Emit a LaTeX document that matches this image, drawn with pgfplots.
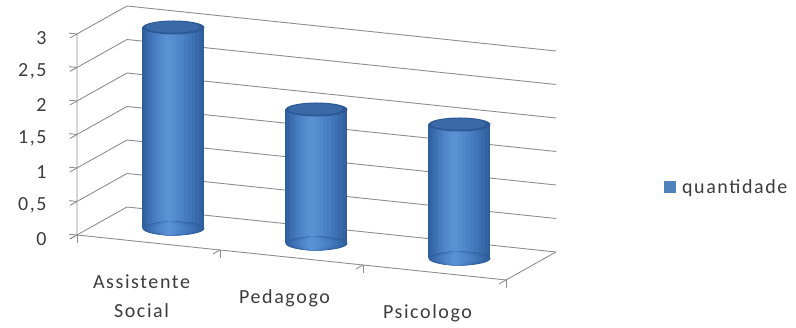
\documentclass[border=0pt]{standalone}
\usepackage{pgfplots}
\pgfplotsset{compat=1.18}
\usepackage{pgfplotstable}
\usepackage{fontspec}
\setmainfont{Carlito}[LetterSpace=8]

\definecolor{gridgray}{HTML}{8E8E8E}
\definecolor{textgray}{HTML}{3C3C3C}
\definecolor{legblue}{HTML}{4F81BD}
\definecolor{layerA}{HTML}{2F5E9C}
\definecolor{layerB}{HTML}{3463A3}
\definecolor{layerC}{HTML}{386AAB}
\definecolor{layerD}{HTML}{3D70B3}
\definecolor{layerE}{HTML}{4276BA}
\definecolor{layerF}{HTML}{477CC0}
\definecolor{layerG}{HTML}{4C82C6}
\definecolor{layerH}{HTML}{5188CB}
\definecolor{layerI}{HTML}{568DCF}
\definecolor{layerJ}{HTML}{5A91D2}
\definecolor{capedge}{HTML}{2D5A96}
\definecolor{capmid}{HTML}{3A69A8}

\pgfplotstableread{
x val
1 3
2 2
3 2
}\quantidade

% elliptical base of a cylinder layer: half width = mark size
\pgfdeclareplotmark{cylbase}{%
  \pgfpathellipse{\pgfpointorigin}{\pgfqpoint{\pgfplotmarksize}{0pt}}{\pgfqpoint{0pt}{7pt}}%
  \pgfusepathqfill}
% top face of a cylinder
\pgfdeclareplotmark{cyltop}{%
  \pgfsetfillcolor{capedge}%
  \pgfpathellipse{\pgfpointorigin}{\pgfqpoint{\pgfplotmarksize}{0pt}}{\pgfqpoint{0pt}{7pt}}%
  \pgfusepathqfill
  \pgfsetfillcolor{capmid}%
  \pgfpathellipse{\pgfpoint{-1pt}{0.4pt}}{\pgfqpoint{27pt}{0pt}}{\pgfqpoint{0pt}{5.6pt}}%
  \pgfusepathqfill}

% one shaded layer of a cylinder: x, value, width, colour, horizontal shift
\newcommand{\cylpart}[5]{%
  \addplot3[only marks, mark=cylbase, mark size=#3/2, color=#4, xshift=#5,
    forget plot] coordinates {(#1,0.5,0)};
  \addplot3[line width=#3, draw=#4, xshift=#5, forget plot]
    coordinates {(#1,0.5,0) (#1,0.5,#2)};
}
% body of one cylinder: x, value
\newcommand{\cylbar}[2]{%
  \cylpart{#1}{#2}{62pt}{layerA}{0pt}
  \cylpart{#1}{#2}{58pt}{layerB}{-0.5pt}
  \cylpart{#1}{#2}{53pt}{layerC}{-1pt}
  \cylpart{#1}{#2}{47pt}{layerD}{-1.5pt}
  \cylpart{#1}{#2}{41pt}{layerE}{-2pt}
  \cylpart{#1}{#2}{35pt}{layerF}{-2.5pt}
  \cylpart{#1}{#2}{28pt}{layerG}{-3pt}
  \cylpart{#1}{#2}{21pt}{layerH}{-3.5pt}
  \cylpart{#1}{#2}{14pt}{layerI}{-4pt}
  \cylpart{#1}{#2}{7pt}{layerJ}{-4.5pt}
}

\begin{document}
\begin{tikzpicture}[font=\fontsize{20}{29}\selectfont, text=textgray]
\begin{axis}[
  x={(143pt,-15pt)}, y={(50pt,28pt)}, z={(0pt,67pt)},
  xmin=0.5, xmax=3.5, ymin=0, ymax=1, zmin=0, zmax=3,
  clip=false,
  axis lines*=left,
  axis line style={draw=none},
  zmajorgrids,
  major grid style={gridgray, line width=0.9pt},
  tick style={gridgray, line width=0.9pt},
  tick align=outside,
  major tick length=8pt,
  xtick={1,2,3},
  xticklabels={{Assistente\\Social},{Pedagogo},{Psicologo}},
  xticklabel style={align=center, anchor=north, yshift=-25pt, xshift=0pt},
  major x tick style={draw=none},
  minor xtick={0.5,1.5,2.5,3.5},
  minor x tick style={gridgray, line width=0.9pt},
  minor tick length=8pt,
  ytick=\empty,
  ztick={0,0.5,...,3},
  zticklabel style={anchor=east, xshift=-20pt,
    /pgf/number format/fixed, /pgf/number format/use comma,
    /pgf/number format/assume math mode=true},
  legend style={draw=none, fill=none, at={(axis description cs:1.219,0.34)}, anchor=west,
    font=\fontsize{20}{22}\selectfont},
  legend cell align=left,
]
% floor front and right edges, front edge of the left wall
\addplot3[gridgray, line width=0.9pt, forget plot]
  coordinates {(0.5,0,3) (0.5,0,0) (3.5,0,0) (3.5,1,0)};

\cylbar{1}{3}
\cylbar{2}{2}
\cylbar{3}{2}

\addplot3[only marks, mark=cyltop, mark size=31pt, forget plot]
  table[x=x, y expr=0.5, z=val] {\quantidade};

\addlegendimage{legend image code/.code={%
  \fill[legblue, draw=none] (0pt,-6pt) rectangle (12pt,6pt);
  \path[draw=none, fill=none] (0pt,0pt) rectangle (16pt,0pt);}}
\addlegendentry{quantidade}

\path (axis cs:0,0,0) coordinate (O);
\end{axis}
\pgfresetboundingbox
\path[use as bounding box] ([shift={(-5.5pt,-100.5pt)}]O) rectangle ([shift={(790.5pt,227.5pt)}]O);
\end{tikzpicture}
\end{document}
